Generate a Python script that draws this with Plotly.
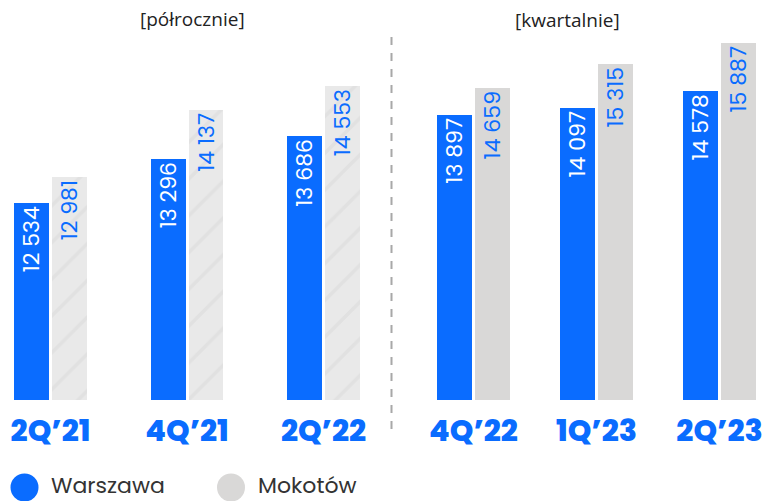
import plotly.graph_objects as go

# ---- data ----
cats_half = ["2Q’21", "4Q’21", "2Q’22"]
cats_quarter = ["4Q’22", "1Q’23", "2Q’23"]
warszawa_half = [12534, 13296, 13686]
mokotow_half = [12981, 14137, 14553]
warszawa_quarter = [13897, 14097, 14578]
mokotow_quarter = [14659, 15315, 15887]
series_names = ["Warszawa", "Mokotów"]
panel_titles = ["[półrocznie]", "[kwartalnie]"]

W, H = 769, 501
BLUE = "#0a6cff"
GRAY = "#d9d8d7"
FONT = "Poppins, Inter, Roboto, sans-serif"
LBL = 22


def fmt(v):
    return f"{v:,}".replace(",", " ")


def px(x):
    return x / W


def py(y):
    return 1 - y / H


fig = go.Figure()

# left panel (half-yearly)
lw, lo = 0.256, 0.267
fig.add_trace(go.Bar(
    x=cats_half, y=warszawa_half, name=series_names[0], xaxis="x", yaxis="y",
    marker=dict(color=BLUE, line=dict(width=0)), width=lw, offset=-lo,
    text=[fmt(v) for v in warszawa_half], textposition="inside", textangle=-90,
    insidetextanchor="end", constraintext="none",
    insidetextfont=dict(color="white", size=LBL, family=FONT), showlegend=False))
fig.add_trace(go.Bar(
    x=cats_half, y=mokotow_half, name=series_names[1], xaxis="x", yaxis="y",
    marker=dict(color="#e9e9e9", line=dict(width=0),
                pattern=dict(shape="/", fgcolor="#d9d9d9", bgcolor="#e9e9e9",
                             size=26, solidity=0.14)),
    width=lw, offset=0.011,
    text=[fmt(v) for v in mokotow_half], textposition="inside", textangle=-90,
    insidetextanchor="end", constraintext="none",
    insidetextfont=dict(color=BLUE, size=LBL, family=FONT), showlegend=False))

# right panel (quarterly)
rw, ro = 0.285, 0.297
fig.add_trace(go.Bar(
    x=cats_quarter, y=warszawa_quarter, name=series_names[0], xaxis="x2", yaxis="y2",
    marker=dict(color=BLUE, line=dict(width=0)), width=rw, offset=-ro,
    text=[fmt(v) for v in warszawa_quarter], textposition="inside", textangle=-90,
    insidetextanchor="end", constraintext="none",
    insidetextfont=dict(color="white", size=LBL, family=FONT), showlegend=False))
fig.add_trace(go.Bar(
    x=cats_quarter, y=mokotow_quarter, name=series_names[1], xaxis="x2", yaxis="y2",
    marker=dict(color=GRAY, line=dict(width=0)), width=rw, offset=0.012,
    text=[fmt(v) for v in mokotow_quarter], textposition="inside", textangle=-90,
    insidetextanchor="end", constraintext="none",
    insidetextfont=dict(color=BLUE, size=LBL, family=FONT), showlegend=False))

tickfont = dict(size=30, color=BLUE, family=FONT, weight=800)
ydom = [1 - 400 / H, 1]

fig.update_layout(
    width=W, height=H, margin=dict(l=0, r=0, t=0, b=0),
    paper_bgcolor="white", plot_bgcolor="white", showlegend=False,
    xaxis=dict(domain=[0, px(390)], range=[-0.37, 2.487], showgrid=False,
               zeroline=False, showline=False, ticks="", tickfont=tickfont,
               ticklabelstandoff=10),
    xaxis2=dict(domain=[px(395), 1], range=[-0.638, 2.402], showgrid=False,
                zeroline=False, showline=False, ticks="", tickfont=tickfont,
                ticklabelstandoff=10, anchor="y2"),
    yaxis=dict(domain=ydom, range=[9100, 16057], visible=False),
    yaxis2=dict(domain=ydom, range=[6056, 17075], visible=False, anchor="x2"),
    bargap=0, barmode="group",
)

# panel titles
for cx, cy, t in [(192.5, 19, panel_titles[0]), (567, 20, panel_titles[1])]:
    fig.add_annotation(x=px(cx), y=py(cy), xref="paper", yref="paper",
                       xanchor="center", yanchor="middle",
                       text=t, showarrow=False,
                       font=dict(size=19, color="#222222", family="Open Sans"))

# divider
fig.add_shape(type="line", xref="paper", yref="paper",
              x0=px(391.5), x1=px(391.5), y0=py(37), y1=py(437),
              line=dict(color="#a8a8a8", width=2, dash="8px,8px"))

# legend (circles + labels)
legend_items = [(24.5, BLUE, 49), (231, "#d9d8d7", 256)]
for (cx, col, tx), name in zip(legend_items, series_names):
    r = 14
    cy = 487.5
    fig.add_shape(type="circle", xref="paper", yref="paper",
                  x0=px(cx - r), x1=px(cx + r), y0=py(cy + r), y1=py(cy - r),
                  fillcolor=col, line=dict(width=0))
    fig.add_annotation(x=px(tx), y=py(485.5), xref="paper", yref="paper",
                       text=name, showarrow=False, xanchor="left", yanchor="middle",
                       font=dict(size=22, color="#333333", family=FONT))

fig.write_html("out.html")
